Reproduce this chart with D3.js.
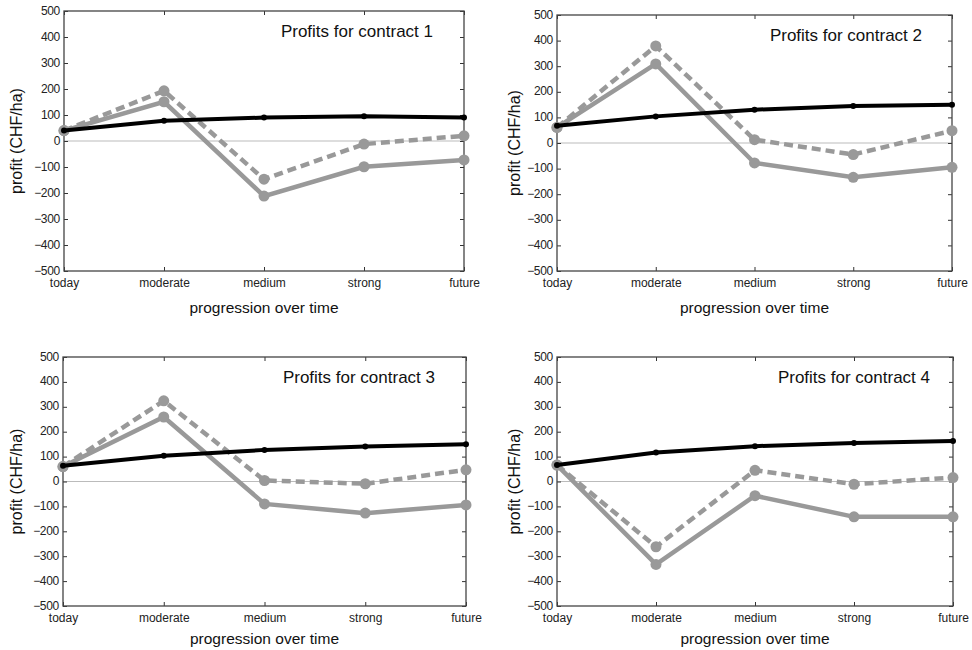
<!DOCTYPE html>
<html>
<head>
<meta charset="utf-8">
<script src="https://cdn.jsdelivr.net/npm/d3@7"></script>
<style>
  body { margin: 0; background: #fff; }
  svg { display: block; font-family: "Liberation Sans", Arial, sans-serif; }
  .tick text { font-size: 12px; fill: #222; }
  .axis-title { font-size: 15.5px; fill: #111; }
  .y-title { font-size: 16px; fill: #111; }
  .panel-title { font-size: 17px; fill: #111; }
</style>
</head>
<body>
<svg id="chart" width="972" height="650"></svg>
<script>
// categories and tick values
const stages = ["today", "moderate", "medium", "strong", "future"];
const yTicks = [-500, -400, -300, -200, -100, 0, 100, 200, 300, 400, 500];

// profits per contract (CHF/ha)
const black1 = [40, 78, 90, 95, 90];
const solid1 = [40, 151, -212, -99, -73];
const dashed1 = [40, 193, -147, -12, 20];

const black2 = [67, 104, 130, 145, 149];
const solid2 = [61, 309, -78, -134, -95];
const dashed2 = [61, 379, 13, -45, 48];

const black3 = [63, 103, 127, 141, 150];
const solid3 = [60, 259, -90, -127, -94];
const dashed3 = [60, 324, 4, -9, 47];

const black4 = [66, 116, 142, 155, 163];
const solid4 = [66, -333, -57, -142, -142];
const dashed4 = [66, -262, 45, -11, 16];

const titles = ["Profits for contract 1", "Profits for contract 2", "Profits for contract 3", "Profits for contract 4"];

// panel frames and label offsets (layout only)
const panels = [
    { x0: 64, x1: 464, y0: 11, y1: 271, tdx: 31, xl: 42, yl: 48, black: black1, solid: solid1, dashed: dashed1 },
    { x0: 557, x1: 952, y0: 15, y1: 271, tdx: 30, xl: 42, yl: 43, black: black2, solid: solid2, dashed: dashed2 },
    { x0: 63, x1: 466, y0: 357, y1: 606, tdx: 31, xl: 38, yl: 47, black: black3, solid: solid3, dashed: dashed3 },
    { x0: 557, x1: 953, y0: 357, y1: 606, tdx: 23, xl: 38, yl: 43, black: black4, solid: solid4, dashed: dashed4 }
];

const svg = d3.select("#chart");
const grey = "#999";

panels.forEach((p, i) => {
    const x = d3.scalePoint().domain(stages).range([p.x0, p.x1]);
    const y = d3.scaleLinear().domain([-500, 500]).range([p.y1, p.y0]);
    const g = svg.append("g").attr("class", "panel");

    // zero line
    g.append("line")
        .attr("x1", p.x0).attr("x2", p.x1)
        .attr("y1", y(0)).attr("y2", y(0))
        .attr("stroke", "#bbb").attr("stroke-width", 1.2);

    // axes with inward ticks
    const left = g.append("g").attr("transform", `translate(${p.x0},0)`)
        .call(d3.axisLeft(y).tickValues(yTicks).tickSize(-4).tickPadding(4).tickFormat(d3.format("d")));
    const right = g.append("g").attr("transform", `translate(${p.x1},0)`)
        .call(d3.axisRight(y).tickValues(yTicks).tickSize(-4).tickFormat(""));
    const bottom = g.append("g").attr("transform", `translate(0,${p.y1})`)
        .call(d3.axisBottom(x).tickSize(-4).tickPadding(7));
    const top = g.append("g").attr("transform", `translate(0,${p.y0})`)
        .call(d3.axisTop(x).tickSize(-4).tickFormat(""));

    [left, right, bottom, top].forEach(a => {
        a.select(".domain").remove();
        a.selectAll(".tick line").attr("stroke", "#333");
    });
    left.selectAll(".tick text").attr("dy", "0.25em").style("letter-spacing", "-0.3px");

    // frame
    g.append("rect")
        .attr("x", p.x0).attr("y", p.y0)
        .attr("width", p.x1 - p.x0).attr("height", p.y1 - p.y0)
        .attr("fill", "none").attr("stroke", "#444").attr("stroke-width", 1.3);

    const line = d3.line().x((d, j) => x(stages[j])).y(d => y(d));

    // dashed grey series
    g.append("path").datum(p.dashed)
        .attr("d", line).attr("fill", "none")
        .attr("stroke", grey).attr("stroke-width", 4.5)
        .attr("stroke-dasharray", "9,5");
    g.selectAll(".dash-dot").data(p.dashed).enter().append("circle")
        .attr("class", "dash-dot")
        .attr("cx", (d, j) => x(stages[j])).attr("cy", d => y(d))
        .attr("r", 5.5).attr("fill", grey);

    // solid grey series
    g.append("path").datum(p.solid)
        .attr("d", line).attr("fill", "none")
        .attr("stroke", grey).attr("stroke-width", 4.5);
    g.selectAll(".solid-dot").data(p.solid).enter().append("circle")
        .attr("class", "solid-dot")
        .attr("cx", (d, j) => x(stages[j])).attr("cy", d => y(d))
        .attr("r", 5.5).attr("fill", grey);

    // black series
    g.append("path").datum(p.black)
        .attr("d", line).attr("fill", "none")
        .attr("stroke", "#000").attr("stroke-width", 4);
    g.selectAll(".black-dot").data(p.black).enter().append("circle")
        .attr("class", "black-dot")
        .attr("cx", (d, j) => x(stages[j])).attr("cy", d => y(d))
        .attr("r", 3).attr("fill", "#000");

    // titles
    g.append("text").attr("class", "panel-title")
        .attr("x", p.x1 - p.tdx).attr("y", p.y0 + 26)
        .attr("text-anchor", "end")
        .text(titles[i]);

    g.append("text").attr("class", "axis-title")
        .attr("x", (p.x0 + p.x1) / 2).attr("y", p.y1 + p.xl)
        .attr("text-anchor", "middle")
        .text("progression over time");

    g.append("text").attr("class", "y-title")
        .attr("transform", `translate(${p.x0 - p.yl},${(p.y0 + p.y1) / 2}) rotate(-90)`)
        .attr("text-anchor", "middle")
        .attr("dy", "0.35em")
        .text("profit (CHF/ha)");
});
</script>
</body>
</html>
